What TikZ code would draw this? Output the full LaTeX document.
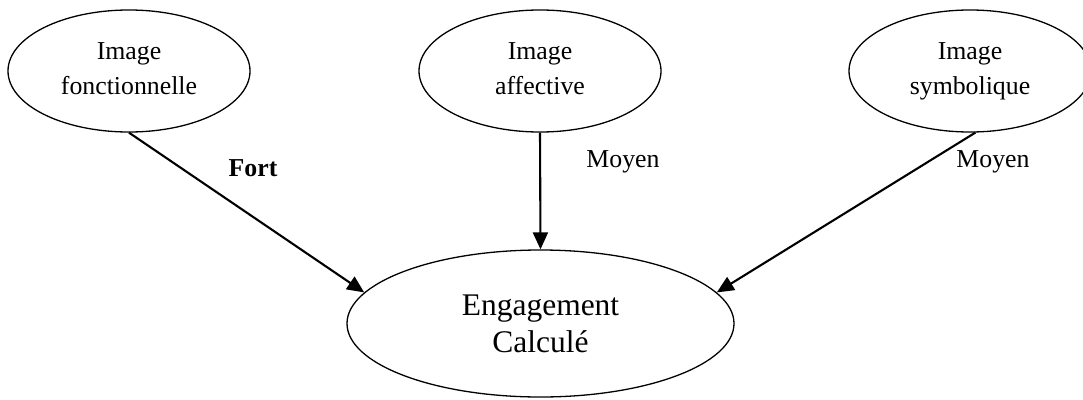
\documentclass[tikz,border=0pt]{standalone}
\usepackage{fontspec}
\setmainfont{Liberation Serif}
\usetikzlibrary{shapes.geometric,arrows.meta}
\tikzset{
  smallell/.style={draw, ellipse, line width=1.3pt, inner sep=0pt,
    minimum width=242pt, minimum height=122pt, align=center,
    font=\fontsize{25.8}{35}\selectfont},
  bigell/.style={draw, ellipse, line width=1.3pt, inner sep=0pt,
    minimum width=387pt, minimum height=147pt, align=center,
    font=\fontsize{31.5}{37}\selectfont},
  link/.style={line width=2.1pt, -{Triangle[length=17pt,width=15pt]}},
  weight/.style={font=\fontsize{25.8}{30}\selectfont, inner sep=0pt}
}
\begin{document}
\begin{tikzpicture}[x=1pt,y=-1pt]
  \useasboundingbox (0,0) rectangle (1083,399);
  % the phantom keeps the three two-line labels on the same baselines
  \node[smallell] (fonc) at (129,71) {Image\\fonctionnelle\vphantom{y}};
  \node[smallell] (aff)  at (540,71) {Image\\affective\vphantom{y}};
  \node[smallell] (symb) at (970,71) {Image\\symbolique};
  \node[bigell] (eng) at (540.5,323.5) {Engagement\\Calculé};

  \draw[link] (fonc.south) -- (eng.170);
  \draw[link] (aff.south) -- (eng.north);
  \draw[link] (symb.-85) -- (eng.10.5);

  \node[weight] (lf) at (253,168) {\bfseries Fort};
  \node[weight] (la) at (623,162) {Moyen};
  \node[weight] (ls) at (993,162) {Moyen};
\end{tikzpicture}
\end{document}
